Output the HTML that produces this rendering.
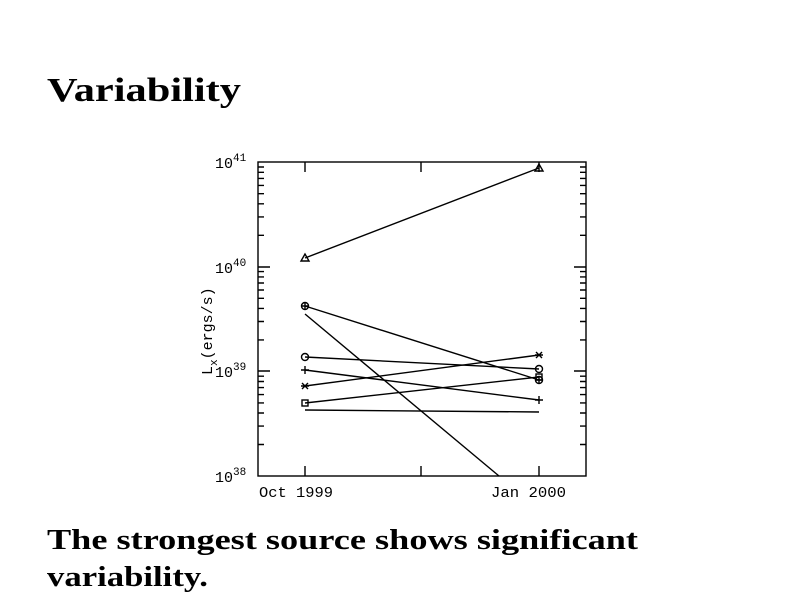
<!DOCTYPE html>
<html><head><meta charset="utf-8"><style>html,body{margin:0;padding:0;background:#fff}</style></head>
<body>
<svg width="800" height="600" xmlns="http://www.w3.org/2000/svg" font-family="Liberation Sans, sans-serif">
<rect width="800" height="600" fill="#fff"/>
<g font-family="Liberation Serif, serif" font-weight="bold" fill="#000">
<text x="47" y="101" font-size="34" textLength="194" lengthAdjust="spacingAndGlyphs">Variability</text>
<text x="47" y="549" font-size="28" textLength="591" lengthAdjust="spacingAndGlyphs">The strongest source shows significant</text>
<text x="47" y="586" font-size="28" textLength="161" lengthAdjust="spacingAndGlyphs">variability.</text>
</g>
<g stroke="#000" stroke-width="1.4" fill="none">
<rect x="258" y="162" width="328" height="314"/>
<path d="M305 476v-10M421 476v-10M539 476v-10M305 162v10M421 162v10M539 162v10"/>
<path d="M258 267h12M258 371h12M586 267h-12M586 371h-12"/>
<path d="M258 444.5h6M258 426.1h6M258 413h6M258 402.9h6M258 394.6h6M258 387.6h6M258 381.5h6M258 376.2h6
M258 339.9h6M258 321.5h6M258 308.4h6M258 298.3h6M258 290h6M258 283h6M258 276.9h6M258 271.6h6
M258 235.3h6M258 216.9h6M258 203.8h6M258 193.7h6M258 185.4h6M258 178.4h6M258 172.3h6M258 167h6
M586 444.5h-6M586 426.1h-6M586 413h-6M586 402.9h-6M586 394.6h-6M586 387.6h-6M586 381.5h-6M586 376.2h-6
M586 339.9h-6M586 321.5h-6M586 308.4h-6M586 298.3h-6M586 290h-6M586 283h-6M586 276.9h-6M586 271.6h-6
M586 235.3h-6M586 216.9h-6M586 203.8h-6M586 193.7h-6M586 185.4h-6M586 178.4h-6M586 172.3h-6M586 167h-6"/>
<path d="M305 258L539 168"/>
<path d="M305 306L539 380"/>
<path d="M305 314L499 476"/>
<path d="M305 357L539 369"/>
<path d="M305 370L539 400"/>
<path d="M305 386L539 355"/>
<path d="M305 403L539 377"/>
<path d="M305 410L539 412"/>
<path d="M305 254l-4 7h8z M539 164l-4 7h8z"/>
<circle cx="305" cy="306" r="3.5"/><path d="M301 306h8M305 302v8"/>
<circle cx="539" cy="380" r="3.5"/><path d="M535 380h8M539 376v8"/>
<circle cx="305" cy="357" r="3.5"/><circle cx="539" cy="369" r="3.5"/>
<path d="M301 370h8M305 366v8M535 400h8M539 396v8"/>
<path d="M302 383l6 6M308 383l-6 6M301 386h8M536 352l6 6M542 352l-6 6M535 355h8"/>
<rect x="302" y="400" width="6" height="6"/><rect x="536" y="374" width="6" height="6"/>
</g>
<g font-family="Liberation Mono, monospace" font-size="15" fill="#000">
<text x="215" y="168">10</text><text x="233" y="161" font-size="11">41</text>
<text x="215" y="273">10</text><text x="233" y="266" font-size="11">40</text>
<text x="215" y="377">10</text><text x="233" y="370" font-size="11">39</text>
<text x="215" y="482">10</text><text x="233" y="475" font-size="11">38</text>
<text x="259" y="497" textLength="74" lengthAdjust="spacingAndGlyphs">Oct 1999</text>
<text x="491" y="497" textLength="75" lengthAdjust="spacingAndGlyphs">Jan 2000</text>
<text transform="translate(212,375) rotate(-90)" font-size="15">L<tspan font-size="11" dy="5">x</tspan><tspan dy="-5">(ergs/s)</tspan></text>
</g>
</svg>
</body></html>
